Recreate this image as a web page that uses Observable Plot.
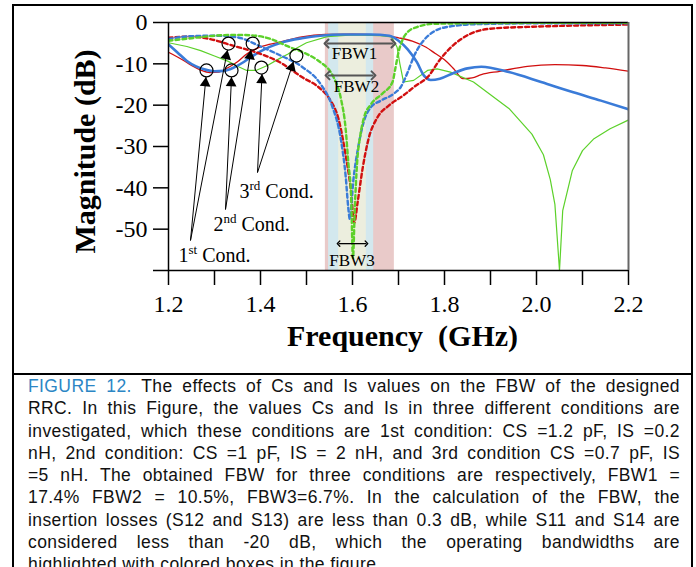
<!DOCTYPE html>
<html><head><meta charset="utf-8">
<script src="https://cdn.jsdelivr.net/npm/d3@7"></script>
<script src="https://cdn.jsdelivr.net/npm/@observablehq/plot@0.6"></script>
<style>
html,body{margin:0;padding:0;background:#fff;}
body{width:696px;height:567px;position:relative;overflow:hidden;}
#chart{position:absolute;left:0;top:0;}
.frame{position:absolute;background:#000;}
#caption{position:absolute;left:28px;top:375px;width:652px;font-family:"Liberation Sans",Arial,sans-serif;font-size:17.5px;letter-spacing:0.4px;line-height:22.3px;color:#111;}
#caption div{text-align:justify;text-align-last:justify;}
#caption div.last{text-align:left;text-align-last:left;}
#caption .fig{color:#2b86c5;}
</style></head><body>
<div id="chart"></div>
<div class="frame" style="left:12px;top:4px;width:681px;height:2px"></div>
<div class="frame" style="left:12px;top:4px;width:2px;height:563px"></div>
<div class="frame" style="left:691px;top:4px;width:2px;height:563px"></div>
<div class="frame" style="left:12px;top:373px;width:681px;height:2px"></div>
<div id="caption">
<div><span class="fig">FIGURE 12.</span> The effects of Cs and Is values on the FBW of the designed</div>
<div>RRC. In this Figure, the values Cs and Is in three different conditions are</div>
<div>investigated, which these conditions are 1st condition: CS =1.2 pF, IS =0.2</div>
<div>nH, 2nd condition: CS =1 pF, IS = 2 nH, and 3rd condition CS =0.7 pF, IS</div>
<div>=5 nH. The obtained FBW for three conditions are respectively, FBW1 =</div>
<div>17.4% FBW2 = 10.5%, FBW3=6.7%. In the calculation of the FBW, the</div>
<div>insertion losses (S12 and S13) are less than 0.3 dB, while S11 and S14 are</div>
<div>considered less than -20 dB, which the operating bandwidths are</div>
<div class="last">highlighted with colored boxes in the figure.</div>
</div>
<script>
// ---------- data (frequency in GHz, magnitude in dB) ----------
const freqRedSolid = [1.20,1.23,1.25,1.27,1.29,1.31,1.33,1.35,1.37,1.40,1.44,1.49,1.54,1.60,1.66,1.70,1.73,1.76,1.78,1.80,1.82,1.84,1.86,1.88,1.92,1.98,2.04,2.10,2.15,2.20];
const magRedSolid  = [-7.2,-9.0,-10.4,-11.5,-12.1,-12.0,-10.9,-9.5,-7.6,-5.9,-4.8,-3.5,-2.9,-2.8,-3.0,-3.7,-4.5,-6.0,-7.5,-9.0,-11.2,-13.6,-13.4,-12.6,-11.8,-10.6,-10.2,-10.4,-11.0,-11.8];

const freqBlueSolid = [1.20,1.22,1.24,1.26,1.28,1.30,1.32,1.34,1.36,1.38,1.40,1.42,1.45,1.49,1.53,1.58,1.64,1.68,1.70,1.72,1.74,1.755,1.77,1.79,1.82,1.85,1.88,1.94,2.01,2.08,2.14,2.20];
const magBlueSolid  = [-5.3,-7.3,-9.3,-10.6,-11.4,-11.8,-11.7,-11.0,-9.8,-8.3,-7.0,-5.9,-4.7,-3.8,-3.2,-2.9,-2.9,-3.2,-4.4,-6.5,-9.6,-12.8,-13.9,-13.6,-12.2,-11.1,-10.7,-12.0,-14.4,-16.9,-18.9,-21.0];

const freqGreenSolid = [1.20,1.24,1.27,1.30,1.33,1.35,1.37,1.39,1.415,1.44,1.46,1.48,1.50,1.545,1.60,1.66,1.685,1.697,1.703,1.711,1.733,1.763,1.784,1.813,1.863,1.90,1.94,1.99,2.015,2.03,2.04,2.05,2.057,2.078,2.10,2.125,2.16,2.20];
const magGreenSolid  = [-4.9,-5.8,-6.8,-8.1,-9.4,-10.6,-11.6,-11.6,-10.4,-8.8,-7.6,-6.1,-4.9,-3.4,-3.0,-3.2,-3.5,-6.0,-10.0,-14.4,-14.0,-11.6,-11.2,-12.0,-14.4,-17.5,-20.8,-27.0,-32.0,-38.0,-44.0,-60.0,-45.5,-35.8,-31.0,-28.1,-25.7,-23.6];

const freqRedDash = [1.20,1.25,1.29,1.34,1.40,1.44,1.49,1.53,1.55,1.57,1.585,1.596,1.604,1.611,1.622,1.635,1.654,1.68,1.71,1.735,1.765,1.79,1.82,1.855,1.90,2.00,2.10,2.20];
const magRedDash  = [-3.7,-3.4,-4.0,-5.6,-7.6,-9.5,-13.2,-16.0,-18.5,-23.5,-32.0,-40.0,-48.4,-43.6,-35.3,-28.1,-23.0,-20.0,-17.7,-15.5,-13.0,-9.0,-5.4,-2.8,-1.5,-1.0,-0.7,-0.5];

const freqBlueDash = [1.20,1.25,1.30,1.35,1.40,1.44,1.49,1.53,1.555,1.575,1.585,1.591,1.594,1.602,1.613,1.624,1.64,1.66,1.69,1.705,1.72,1.735,1.75,1.77,1.80,1.87,2.00,2.20];
const magBlueDash  = [-4.0,-3.3,-3.2,-3.6,-5.8,-7.8,-10.7,-14.8,-20.0,-28.5,-37.0,-45.0,-47.5,-38.0,-29.8,-24.2,-20.5,-19.0,-17.2,-15.6,-12.0,-7.8,-5.0,-2.7,-1.2,-0.4,-0.2,-0.2];

const freqGreenDash = [1.20,1.25,1.30,1.35,1.38,1.42,1.46,1.50,1.525,1.56,1.575,1.585,1.591,1.597,1.601,1.605,1.610,1.617,1.625,1.64,1.665,1.687,1.693,1.70,1.708,1.72,1.74,1.78,2.00,2.20];
const magGreenDash  = [-4.4,-3.8,-3.2,-3.0,-3.1,-3.9,-5.8,-7.6,-9.2,-13.5,-18.5,-25.6,-34.0,-42.0,-57.0,-45.0,-34.0,-27.3,-23.0,-19.8,-17.2,-14.4,-11.2,-7.2,-4.4,-2.3,-1.1,-0.3,-0.1,-0.1];

// operating bandwidth boxes
const bandNames = ["FBW1","FBW2","FBW3"];
const bandStart = [1.541,1.548,1.570];
const bandEnd   = [1.691,1.646,1.630];
const bandColors = ["#e9cac9","#d3e8ee","#eceede"];

// FBW double arrows and labels
const fbwArrowStart = [1.5435,1.5457,1.5696];
const fbwArrowEnd   = [1.689,1.6457,1.6304];
const fbwArrowDb    = [-5.1,-12.8,-53.5];
const fbwLabelF     = [1.6043,1.6087,1.599];
const fbwLabelDb    = [-7.4,-15.6,-57.7];

// condition annotations
const condLabels = ["1st Cond.","2nd Cond.","3rd Cond."];
const condLabelF = [1.2217,1.2978,1.3543];
const condLabelDb = [-56.45,-48.95,-40.96];
const arrowFromF  = [1.2478,1.2478,1.3239,1.3239,1.3935,1.3935];
const arrowFromDb = [-52.74,-52.74,-45.24,-45.24,-36.3,-36.3];
const arrowToF    = [1.2815,1.3283,1.3370,1.3793,1.4033,1.4717];
const arrowToDb   = [-13.19,-6.65,-13.19,-6.65,-12.46,-9.44];
const circleF     = [1.2826,1.3304,1.3370,1.3830,1.4020,1.4780];
const circleDb    = [-11.6,-5.1,-11.6,-5.1,-10.9,-8.0];

// axes ticks
const xTicks = [1.2,1.3,1.4,1.5,1.6,1.7,1.8,1.9,2.0,2.1,2.2];
const xTickLabels = ["1.2","","1.4","","1.6","","1.8","","2.0","","2.2"];
const yTicks = [0,-10,-20,-30,-40,-50,-60];
const yTickLabels = ["0","-10","-20","-30","-40","-50",""];

// ---------- build ----------
const width = 696, height = 374;
const marginLeft = 168, marginRight = 68, marginTop = 22, marginBottom = 104;
const xDomain = [1.2, 2.2], yDomain = [-60, 0];
const sx = f => marginLeft + (f - xDomain[0]) / (xDomain[1] - xDomain[0]) * (width - marginLeft - marginRight);
const sy = d => marginTop + (yDomain[1] - d) / (yDomain[1] - yDomain[0]) * (height - marginTop - marginBottom);
const ix = p => xDomain[0] + (p - marginLeft) / (width - marginLeft - marginRight) * (xDomain[1] - xDomain[0]);
const iy = p => yDomain[1] - (p - marginTop) / (height - marginTop - marginBottom) * (yDomain[1] - yDomain[0]);

const rows = (f, m) => f.map((x, i) => ({f: x, m: m[i]}));
const bands = bandNames.map((n, i) => ({name: n, x1: bandStart[i], x2: bandEnd[i], color: bandColors[i]}));
const fbw = bandNames.map((n, i) => ({name: n, x1: fbwArrowStart[i], x2: fbwArrowEnd[i], y: fbwArrowDb[i], lf: fbwLabelF[i], ldb: fbwLabelDb[i]}));
const conds = condLabels.map((t, i) => ({t, f: condLabelF[i], m: condLabelDb[i]}));
const arrows = arrowToF.map((f, i) => ({x1: arrowFromF[i], y1: arrowFromDb[i], x2: f, y2: arrowToDb[i]}));
const circles = circleF.map((f, i) => ({f, m: circleDb[i]}));
const heads = arrows.map(a => {
  const x0 = sx(a.x1), y0 = sy(a.y1), x1 = sx(a.x2), y1 = sy(a.y2);
  const dx = x1 - x0, dy = y1 - y0, L = Math.hypot(dx, dy), back = 6.2;
  return {f: ix(x1 - dx / L * back), m: iy(y1 - dy / L * back), angle: Math.atan2(dx, -dy) * 180 / Math.PI};
});

const RED = "#d10f0f", BLUE = "#3a7bd8", GREEN = "#5cd12a";
const dash = "4,3";

const plot = Plot.plot({
  width, height, marginLeft, marginRight, marginTop, marginBottom,
  style: {fontFamily: '"Liberation Serif","Times New Roman",serif', fontSize: "24px", background: "transparent", color: "#000"},
  x: {domain: xDomain, ticks: xTicks, tickSize: 15, tickPadding: 9, tickFormat: d => xTickLabels[xTicks.indexOf(d)] ?? "", label: null},
  y: {domain: yDomain, ticks: yTicks, tickSize: 15, tickPadding: 6, tickFormat: d => yTickLabels[yTicks.indexOf(d)] ?? "", label: null},
  marks: [
    ...bands.map(b => Plot.rect([b], {x1: "x1", x2: "x2", y1: () => yDomain[0], y2: () => yDomain[1], fill: b.color})),
    Plot.line(rows(freqRedSolid, magRedSolid), {x: "f", y: "m", stroke: RED, strokeWidth: 1.3, curve: "monotone-x", clip: true}),
    Plot.line(rows(freqGreenSolid, magGreenSolid), {x: "f", y: "m", stroke: GREEN, strokeWidth: 1.2, curve: "linear", clip: true}),
    Plot.line(rows(freqBlueSolid, magBlueSolid), {x: "f", y: "m", stroke: BLUE, strokeWidth: 2.6, curve: "monotone-x", clip: true}),
    Plot.line(rows(freqRedDash, magRedDash), {x: "f", y: "m", stroke: RED, strokeWidth: 2.4, strokeDasharray: dash, curve: "monotone-x", clip: true}),
    Plot.line(rows(freqBlueDash, magBlueDash), {x: "f", y: "m", stroke: BLUE, strokeWidth: 2.4, strokeDasharray: dash, curve: "monotone-x", clip: true}),
    Plot.line(rows(freqGreenDash, magGreenDash), {x: "f", y: "m", stroke: GREEN, strokeWidth: 2.4, strokeDasharray: dash, curve: "monotone-x", clip: true}),
    Plot.ruleY([yDomain[1]], {stroke: "#000", strokeWidth: 1.5}),
    Plot.ruleY([yDomain[0]], {stroke: "#000", strokeWidth: 1.5}),
    Plot.ruleX([xDomain[0]], {stroke: "#000", strokeWidth: 1.5}),
    Plot.ruleX([xDomain[1]], {stroke: "#666", strokeWidth: 2}),
    Plot.link(fbw.slice(0, 2), {x1: "x1", x2: "x2", y1: "y", y2: "y", stroke: "#555", strokeWidth: 2, markerStart: "arrow-reverse", markerEnd: "arrow"}),
    Plot.link(fbw.slice(2), {x1: "x1", x2: "x2", y1: "y", y2: "y", stroke: "#000", strokeWidth: 1.3, markerStart: "arrow-reverse", markerEnd: "arrow"}),
    Plot.text(fbw, {x: "lf", y: "ldb", text: "name", fontSize: 17, fill: "#000"}),
    Plot.link(arrows, {x1: "x1", y1: "y1", x2: "x2", y2: "y2", stroke: "#000", strokeWidth: 1}),
    Plot.dot(heads, {x: "f", y: "m", symbol: "triangle", r: 4, fill: "#000", stroke: "none", rotate: "angle"}),
    Plot.dot(circles, {x: "f", y: "m", r: 6.5, fill: "none", stroke: "#000", strokeWidth: 1.2}),
    Plot.text(conds, {x: "f", y: "m", text: "t", textAnchor: "start", fontSize: 20, fill: "#000"}),
    Plot.text(["Magnitude (dB)"], {frameAnchor: "left", textAnchor: "middle", lineAnchor: "middle", rotate: -90, dx: -83, dy: 5, fontSize: 30, fontWeight: "bold", fill: "#000"}),
    Plot.text(["Frequency\u00a0 (GHz)"], {frameAnchor: "bottom", textAnchor: "middle", lineAnchor: "middle", dx: 4, dy: 66, fontSize: 30, fontWeight: "bold", fill: "#000"})
  ]
});

// superscripts for condition labels
const NS = "http://www.w3.org/2000/svg";
plot.querySelectorAll("text").forEach(t => {
  const m = t.textContent.match(/^(\d)(st|nd|rd) (Cond\.)$/);
  if (!m) return;
  t.textContent = "";
  const a = document.createElementNS(NS, "tspan"); a.textContent = m[1];
  const b = document.createElementNS(NS, "tspan"); b.textContent = m[2]; b.setAttribute("font-size", "13"); b.setAttribute("dy", "-8");
  const c = document.createElementNS(NS, "tspan"); c.textContent = "\u00a0" + m[3]; c.setAttribute("dy", "8");
  t.append(a, b, c);
});
plot.querySelectorAll('[aria-label^="x-axis"] line, [aria-label^="y-axis"] line, [aria-label^="x-axis"] path, [aria-label^="y-axis"] path').forEach(l => l.setAttribute("stroke-width", "1.5"));
document.getElementById("chart").append(plot);
</script>
</body></html>
